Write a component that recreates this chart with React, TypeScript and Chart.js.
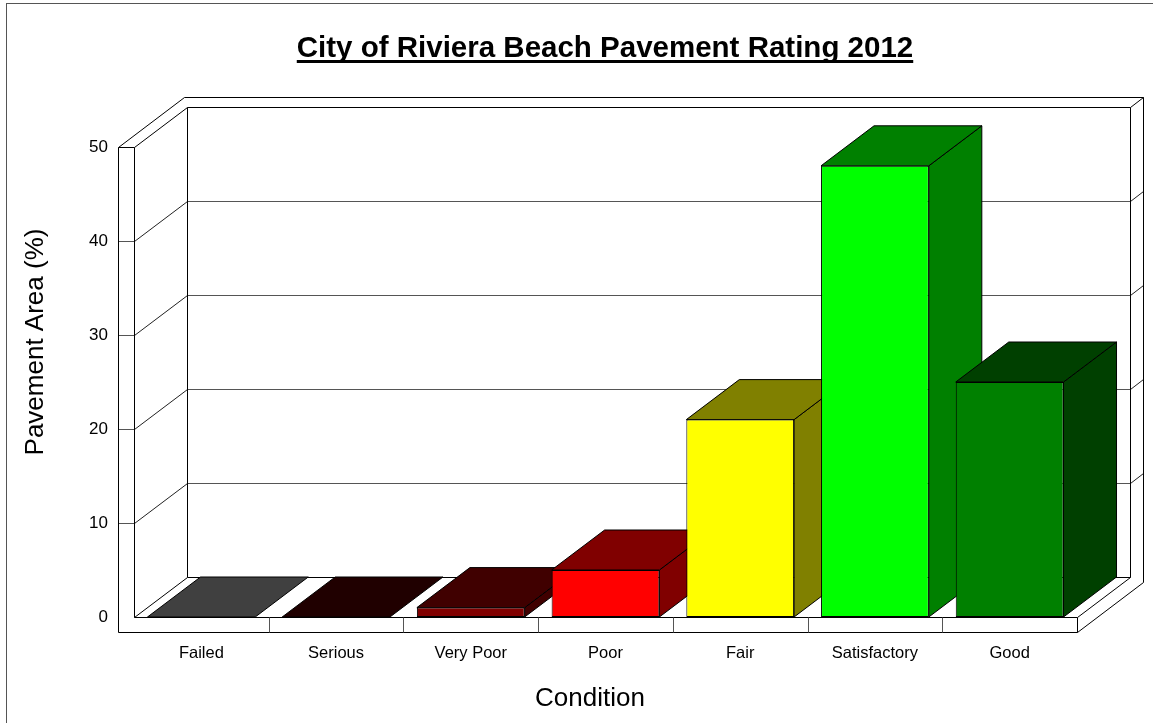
import React, { useEffect, useRef } from "react";
import { Chart, registerables } from "chart.js";

Chart.register(...registerables);

const chartTitle = "City of Riviera Beach Pavement Rating 2012";
const yTitle = "Pavement Area (%)";
const xTitle = "Condition";
const categories = ["Failed", "Serious", "Very Poor", "Poor", "Fair", "Satisfactory", "Good"];
const values = [0, 0, 1, 5, 21, 48, 25];
const frontColors = ["#404040", "#200000", "#800000", "#FF0000", "#FFFF00", "#00FF00", "#008000"];
const shadeColors = ["#404040", "#200000", "#400000", "#800000", "#808000", "#008000", "#004000"];
const yMin = 0;
const yMax = 50;
const yStep = 10;

const FONT = "'Liberation Sans', Arial, Helvetica, sans-serif";
const DX = 53, DY = -40; // depth of the plot box
const DX2 = 66, DY2 = -50; // outer back of the walls
const WALL = 16; // left wall thickness
const FLOOR = 15; // floor thickness

function ln(ctx: CanvasRenderingContext2D, x1: number, y1: number, x2: number, y2: number) {
  const a = (v: number) => Math.round(v) + 0.5;
  ctx.beginPath();
  ctx.moveTo(a(x1), a(y1));
  ctx.lineTo(a(x2), a(y2));
  ctx.stroke();
}

function poly(ctx: CanvasRenderingContext2D, pts: number[][], fill: string) {
  ctx.beginPath();
  pts.forEach((p, i) => (i ? ctx.lineTo(p[0], p[1]) : ctx.moveTo(p[0], p[1])));
  ctx.closePath();
  ctx.fillStyle = fill;
  ctx.fill();
  ctx.strokeStyle = "#000";
  ctx.lineWidth = 1;
  ctx.stroke();
}

const box3d = {
  id: "box3d",
  beforeDraw(chart: any) {
    const ctx = chart.ctx as CanvasRenderingContext2D;
    ctx.save();
    ctx.fillStyle = "#fff";
    ctx.fillRect(0, 0, chart.width, chart.height);
    ctx.strokeStyle = "#555";
    ctx.lineWidth = 1;
    ctx.strokeRect(6.5, 3.5, chart.width + 20, chart.height + 20);
    ctx.restore();
  },
  beforeDatasetsDraw(chart: any) {
    const ctx = chart.ctx as CanvasRenderingContext2D;
    const { left, right, top, bottom } = chart.chartArea;
    const ys = chart.scales.y;
    const xs = chart.scales.x;
    ctx.save();
    ctx.lineWidth = 1;
    // gridlines
    ctx.strokeStyle = "#555";
    ys.ticks.forEach((t: any) => {
      const v = t.value;
      if (v <= yMin || v >= yMax) return;
      const y = ys.getPixelForValue(v);
      ln(ctx, left - WALL, y, left, y);
      ctx.strokeStyle = "#222";
      ln(ctx, left, y, left + DX, y + DY);
      ctx.strokeStyle = "#555";
      ln(ctx, left + DX, y + DY, right + DX, y + DY);
      ctx.strokeStyle = "#222";
      ln(ctx, right + DX, y + DY, right + DX2, y + DY2);
      ctx.strokeStyle = "#555";
    });
    ctx.strokeStyle = "#000";
    // left wall front face
    ln(ctx, left - WALL, top, left - WALL, bottom + FLOOR);
    ln(ctx, left, top, left, bottom);
    ln(ctx, left - WALL, top, left, top);
    // top edges
    ln(ctx, left - WALL, top, left - WALL + DX2, top + DY2);
    ln(ctx, left, top, left + DX, top + DY);
    ln(ctx, left + DX, top + DY, right + DX, top + DY);
    ln(ctx, left - WALL + DX2, top + DY2, right + DX2, top + DY2);
    ln(ctx, right + DX, top + DY, right + DX2, top + DY2);
    // back wall
    ln(ctx, left + DX, top + DY, left + DX, bottom + DY);
    ln(ctx, right + DX, top + DY, right + DX, bottom + DY);
    ln(ctx, right + DX2, top + DY2, right + DX2, bottom + FLOOR + DY2);
    // floor
    ln(ctx, left + DX, bottom + DY, right + DX, bottom + DY);
    ln(ctx, left, bottom, left + DX, bottom + DY);
    ln(ctx, right, bottom, right + DX, bottom + DY);
    ln(ctx, right, bottom + FLOOR, right + DX2, bottom + FLOOR + DY2);
    ln(ctx, left, bottom, right, bottom);
    ln(ctx, left - WALL, bottom + FLOOR, right, bottom + FLOOR);
    ln(ctx, right, bottom, right, bottom + FLOOR);
    // category separators on floor front
    ctx.strokeStyle = "#555";
    for (let i = 1; i < categories.length; i++) {
      const x = (xs.getPixelForValue(i - 1) + xs.getPixelForValue(i)) / 2;
      ln(ctx, x, bottom, x, bottom + FLOOR);
    }
    // bar tops and sides
    const meta = chart.getDatasetMeta(0);
    meta.data.forEach((el: any, i: number) => {
      const w = el.width;
      const x1 = el.x - w / 2;
      const x2 = el.x + w / 2;
      const yt = el.y;
      const yb = el.base;
      if (yb - yt > 0.5) {
        poly(ctx, [[x2, yt], [x2 + DX, yt + DY], [x2 + DX, yb + DY], [x2, yb]], shadeColors[i]);
      }
      poly(ctx, [[x1, yt], [x1 + DX, yt + DY], [x2 + DX, yt + DY], [x2, yt]], shadeColors[i]);
    });
    ctx.restore();
  },
  afterDraw(chart: any) {
    const ctx = chart.ctx as CanvasRenderingContext2D;
    ctx.save();
    ctx.fillStyle = "#000";
    // chart title
    ctx.font = `700 29.5px ${FONT}`;
    ctx.textAlign = "center";
    ctx.textBaseline = "alphabetic";
    const tx = 605;
    ctx.fillText(chartTitle, tx, 57);
    const tw = ctx.measureText(chartTitle).width;
    ctx.fillRect(tx - tw / 2, 60, tw, 3);
    // x title
    ctx.font = `26px ${FONT}`;
    ctx.fillText(xTitle, 590, 706);
    // y title
    ctx.translate(43, 342);
    ctx.rotate(-Math.PI / 2);
    ctx.fillText(yTitle, 0, 0);
    ctx.restore();
  },
};

export default function App() {
  const ref = useRef<HTMLCanvasElement | null>(null);
  useEffect(() => {
    if (!ref.current) return;
    const chart = new Chart(ref.current, {
      type: "bar",
      data: {
        labels: categories,
        datasets: [
          {
            data: values,
            backgroundColor: frontColors,
            borderColor: "#000",
            borderWidth: 1,
            borderSkipped: false,
            barPercentage: 0.8,
            categoryPercentage: 1,
          },
        ],
      },
      options: {
        responsive: false,
        animation: false,
        devicePixelRatio: 1,
        layout: { padding: { top: 147, right: 76, left: 0, bottom: 0 } },
        plugins: { legend: { display: false }, tooltip: { enabled: false }, title: { display: false } },
        scales: {
          x: {
            grid: { display: false, drawTicks: false },
            border: { display: false },
            ticks: { color: "#000", font: { family: FONT, size: 16.5 }, padding: 27, maxRotation: 0, autoSkip: false },
            afterFit: (s: any) => {
              s.height = 106;
            },
          },
          y: {
            min: yMin,
            max: yMax,
            grid: { display: false, drawTicks: false },
            border: { display: false },
            ticks: { stepSize: yStep, color: "#000", font: { family: FONT, size: 17 }, padding: 26 },
            afterFit: (s: any) => {
              s.width = 134;
            },
          },
        },
      },
      plugins: [box3d],
    } as any);
    return () => chart.destroy();
  }, []);
  return (
    <div style={{ position: "fixed", left: 0, top: 0, width: 1153, height: 723, background: "#fff" }}>
      <canvas ref={ref} width={1153} height={723} style={{ display: "block" }} />
    </div>
  );
}
